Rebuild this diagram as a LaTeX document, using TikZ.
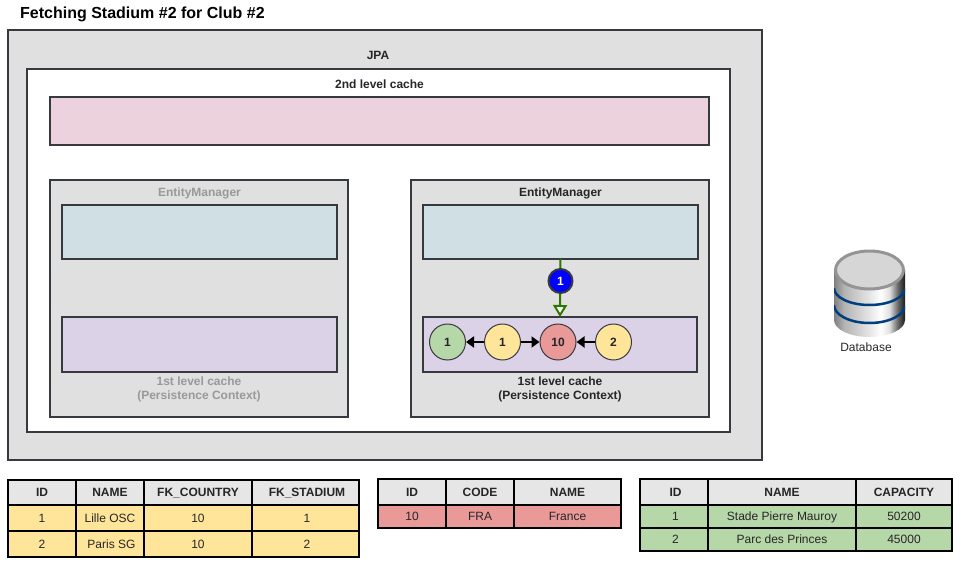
\documentclass[tikz,border=0pt]{standalone}
\usepackage{fontspec}
\setmainfont{Liberation Sans}
\usetikzlibrary{arrows.meta}
\definecolor{panelgray}{HTML}{E0E0E0}
\definecolor{edgedark}{HTML}{36393D}
\definecolor{pinkcache}{HTML}{ECD2DC}
\definecolor{bluecache}{HTML}{D0DFE3}
\definecolor{purplecache}{HTML}{DCD2E8}
\definecolor{clubyellow}{HTML}{FFE599}
\definecolor{countryred}{HTML}{EA9999}
\definecolor{stadiumgreen}{HTML}{B6D7A8}
\definecolor{headgray}{HTML}{E6E6E6}
\definecolor{linkgreen}{HTML}{2D7600}
\definecolor{dbband}{HTML}{003F7F}
\pgfdeclarehorizontalshading{dbbody}{100bp}{
    color(0bp)=(black!50); color(25bp)=(black!50); color(32bp)=(black!30);
    color(50bp)=(black!10); color(58bp)=(white); color(64bp)=(black!12);
    color(70bp)=(black!60); color(75bp)=(black!90); color(100bp)=(black!90)}
\tikzset{
    txt/.style={font=\fontsize{12}{14}\selectfont, text=black!85},
    boldtxt/.style={font=\fontsize{12}{14}\selectfont\bfseries, text=black!85},
    fadedtxt/.style={font=\fontsize{12}{14}\selectfont\bfseries, text=black!40},
    box/.style={draw=edgedark, line width=2pt, inner sep=0pt, outer sep=0pt, anchor=north west},
    entity/.style={circle, draw=edgedark, line width=1pt, minimum size=36pt, inner sep=0pt, txt, font=\fontsize{12}{14}\selectfont\bfseries},
    cell/.style={draw=black, line width=2pt, inner sep=0pt, outer sep=0pt, txt, text height=8.7pt, text depth=0pt},
    headcell/.style={cell, fill=headgray, font=\fontsize{12}{14}\selectfont\bfseries},
    ref/.style={line width=2pt, -{Triangle[length=8pt,width=11pt]}, black}
}
% one table row: name, top, bottom, style, list of x0/x1/text
\newcommand{\tablerow}[5]{
    \foreach \xa/\xb/\cellname [count=\c] in {#5} {
        \node[#4, minimum width={\xb-\xa}, minimum height={#3-#2}] (#1-\c) at ({(\xa+\xb)/2},{(#2+#3)/2}) {\cellname};
    }
}
\begin{document}
\begin{tikzpicture}[x=1pt, y=-1pt]
    \useasboundingbox (0,0) rectangle (962,565);

    % Title
    \node[anchor=west, inner sep=0pt, font=\fontsize{16}{18}\selectfont\bfseries] (title) at (20,14) {Fetching Stadium \#2 for Club \#2};

    % JPA and 2nd level cache
    \node[box, fill=panelgray, minimum width=754pt, minimum height=430pt] (jpa) at (8,30) {};
    \node[boldtxt] (jpalabel) at (378,55) {JPA};
    \node[box, fill=white, minimum width=703pt, minimum height=363pt] (second) at (27,69) {};
    \node[boldtxt] (secondlabel) at (379.5,84) {2nd level cache};
    \node[box, fill=pinkcache, minimum width=659pt, minimum height=48pt] (pink) at (50,97) {};

    % Left EntityManager (faded)
    \node[box, fill=panelgray, minimum width=298pt, minimum height=237pt] (emleft) at (50,180) {};
    \node[fadedtxt] (emleftlabel) at (199.5,193) {EntityManager};
    \node[box, fill=bluecache, minimum width=275pt, minimum height=54pt] (blueleft) at (62,205) {};
    \node[box, fill=purplecache, minimum width=275pt, minimum height=55pt] (purpleleft) at (62,317) {};
    \node[fadedtxt, align=center] (cacheleft) at (199,389) {1st level cache\\(Persistence Context)};

    % Right EntityManager
    \node[box, fill=panelgray, minimum width=298pt, minimum height=237pt] (emright) at (411,180) {};
    \node[boldtxt] (emrightlabel) at (560.5,193) {EntityManager};
    \node[box, fill=bluecache, minimum width=275pt, minimum height=54pt] (blueright) at (423,205) {};
    \node[box, fill=purplecache, minimum width=274pt, minimum height=55pt] (purpleright) at (423,317) {};
    \node[boldtxt, align=center] (cacheright) at (560,389) {1st level cache\\(Persistence Context)};

    % Fetch arrow with its step badge
    \draw[line width=2pt, linkgreen, -{Triangle[open, fill=white, length=12pt, width=14pt, line width=2pt]}] (blueright.south) -- (purpleright.north);
    \node[circle, draw=edgedark, fill=blue, line width=2pt, minimum size=24pt, inner sep=0pt, text=white, font=\fontsize{12}{14}\selectfont\bfseries] (step1) at (560.5,281) {1};

    % Entities in the persistence context
    \node[entity, fill=stadiumgreen] (stadium1) at (447.5,342) {1};
    \node[entity, fill=clubyellow] (club1) at (502.5,342) {1};
    \node[entity, fill=countryred] (country10) at (558,342) {10};
    \node[entity, fill=clubyellow] (club2) at (613.5,342) {2};
    \draw[ref] (club1) -- (stadium1);
    \draw[ref] (club1) -- (country10);
    \draw[ref] (club2) -- (country10);

    % Database
    \begin{scope}
        \clip (834,270) -- (834,320) arc[start angle=180, end angle=360, x radius=35.5pt, y radius=17pt] -- (905,270) -- cycle;
        \shade[shading=dbbody] (834,270) rectangle (905,340);
        \draw[line width=2.5pt, dbband] (834,288) arc[start angle=180, end angle=360, x radius=35.5pt, y radius=17pt];
        \draw[line width=2.5pt, dbband] (834,305) arc[start angle=180, end angle=360, x radius=35.5pt, y radius=18pt];
    \end{scope}
    \draw[line width=3pt, black!42, fill=black!16] (869.5,270) ellipse[x radius=34pt, y radius=19pt];
    \node[txt] (dblabel) at (866,347) {Database};

    % Club table
    \tablerow{clubh}{480}{505}{headcell}{8/76/ID, 76/144/NAME, 144/252/FK\_COUNTRY, 252/359/\hspace{3pt}FK\_STADIUM}
    \tablerow{cluba}{505}{531}{cell, fill=clubyellow}{8/76/1, 76/144/Lille OSC, 144/252/10, 252/359/\hspace{3pt}1}
    \tablerow{clubb}{531}{557}{cell, fill=clubyellow}{8/76/2, 76/144/\hspace{3pt}Paris SG, 144/252/10, 252/359/\hspace{3pt}2}

    % Country table
    \tablerow{countryh}{479}{505}{headcell}{378/446/ID, 446/514/CODE, 514/621/NAME}
    \tablerow{countrya}{505}{528}{cell, fill=countryred}{378/446/10, 446/514/FRA, 514/621/France}

    % Stadium table
    \tablerow{stadiumh}{479}{505}{headcell}{640/708/\hspace{3pt}ID, 708/856/NAME, 856/952/CAPACITY}
    \tablerow{stadiuma}{505}{528}{cell, fill=stadiumgreen}{640/708/\hspace{3pt}1, 708/856/Stade Pierre Mauroy, 856/952/50200}
    \tablerow{stadiumb}{528}{551}{cell, fill=stadiumgreen}{640/708/\hspace{3pt}2, 708/856/Parc des Princes, 856/952/45000}
\end{tikzpicture}
\end{document}
